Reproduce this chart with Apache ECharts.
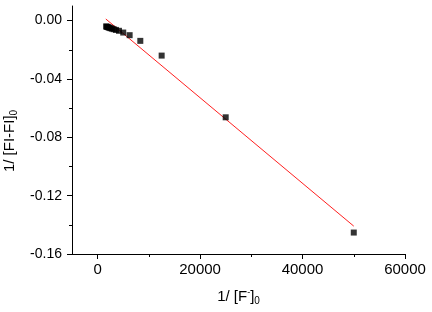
<!DOCTYPE html>
<html>
<head>
    <meta charset="UTF-8">
    <title>1/[F]0 plot</title>
    <script src="https://cdn.jsdelivr.net/npm/echarts@6/dist/echarts.min.js"></script>
    <style>
        html, body { margin: 0; padding: 0; background: #fff; }
        #main { width: 432px; height: 312px; }
    </style>
</head>
<body>
<div id="main"></div>
<script>
    // measured points
    var invF = [50000, 25000, 12500, 8333, 6250, 5000, 4167, 3571, 3125, 2778, 2500, 2273, 2083, 1923, 1786, 1667];
    var invDF = [-0.1453, -0.0663, -0.0240, -0.0139, -0.0100, -0.0082, -0.0070, -0.0064, -0.0059, -0.0055, -0.0052, -0.0049, -0.0046, -0.0044, -0.0042, -0.0040];
    // linear fit line ends
    var fitX = [1600, 50000];
    var fitY = [0.0011, -0.1409];
    // ticks
    var xMajor = [0, 20000, 40000, 60000];
    var xMinor = [10000, 30000, 50000];
    var yMajor = [-0.16, -0.12, -0.08, -0.04, 0];
    var yMinor = [-0.14, -0.10, -0.06, -0.02];

    var font = 'Liberation Sans, Arial, sans-serif';
    var pts = [];
    for (var i = 0; i < invF.length; i++) pts.push([invF[i], invDF[i]]);
    var fit = [];
    for (var j = 0; j < fitX.length; j++) fit.push([fitX[j], fitY[j]]);

    function axisBase(min, max) {
        return {
            type: 'value', min: min, max: max,
            splitLine: { show: false },
            axisLine: { show: true, onZero: false, lineStyle: { color: '#000', width: 1 } }
        };
    }

    var xMain = axisBase(-5000, 60000);
    xMain.position = 'bottom';
    xMain.axisTick = { show: true, inside: false, length: 5, customValues: xMajor, lineStyle: { color: '#000' } };
    xMain.axisLabel = {
        customValues: xMajor, color: '#000', fontSize: 15, fontFamily: font, margin: 8,
        formatter: function (v) { return String(v); }
    };
    xMain.name = '1/ [F{sup|-}]{sub|0}';
    xMain.nameLocation = 'middle';
    xMain.nameGap = 34;
    xMain.nameTextStyle = {
        color: '#000', fontSize: 15, fontFamily: font,
        rich: {
            sup: { fontSize: 9, fontFamily: font, color: '#000', padding: [0, 0, 8, 0] },
            sub: { fontSize: 10, fontFamily: font, color: '#000', padding: [8, 0, 0, 0] }
        }
    };
    // minor ticks sit on a second, lineless axis
    var xSub = axisBase(-5000, 60000);
    xSub.position = 'bottom';
    xSub.axisLine = { show: false, onZero: false };
    xSub.axisTick = { show: true, inside: false, length: 3, customValues: xMinor, lineStyle: { color: '#000' } };
    xSub.axisLabel = { show: false };

    var yMain = axisBase(-0.16, 0.01);
    yMain.position = 'left';
    yMain.axisTick = { show: true, inside: false, length: 5, customValues: yMajor, lineStyle: { color: '#000' } };
    yMain.axisLabel = {
        customValues: yMajor, color: '#000', fontSize: 14, fontFamily: font, margin: 10,
        formatter: function (v) { return v.toFixed(2); }
    };
    yMain.name = '1/ [FI-FI]{sub|0}';
    yMain.nameLocation = 'middle';
    yMain.nameGap = 47;
    yMain.nameTextStyle = {
        color: '#000', fontSize: 15, fontFamily: font, padding: [0, 22, 0, 0],
        rich: { sub: { fontSize: 10, fontFamily: font, color: '#000', padding: [8, 0, 0, 0] } }
    };
    var ySub = axisBase(-0.16, 0.01);
    ySub.position = 'left';
    ySub.axisLine = { show: false, onZero: false };
    ySub.axisTick = { show: true, inside: false, length: 3, customValues: yMinor, lineStyle: { color: '#000' } };
    ySub.axisLabel = { show: false };

    var chart = echarts.init(document.getElementById('main'), null, { renderer: 'canvas' });
    chart.setOption({
        animation: false,
        backgroundColor: '#fff',
        grid: { left: 72, right: 27, top: 6, bottom: 58, containLabel: false, outerBoundsMode: 'none' },
        xAxis: [xMain, xSub],
        yAxis: [yMain, ySub],
        series: [
            {
                type: 'line', data: fit, showSymbol: false, symbol: 'none',
                lineStyle: { color: '#ff2020', width: 1 }, z: 2
            },
            {
                type: 'scatter', data: pts, symbol: 'rect', symbolSize: 6,
                itemStyle: { color: '#000' }, z: 3
            }
        ]
    });
</script>
</body>
</html>
